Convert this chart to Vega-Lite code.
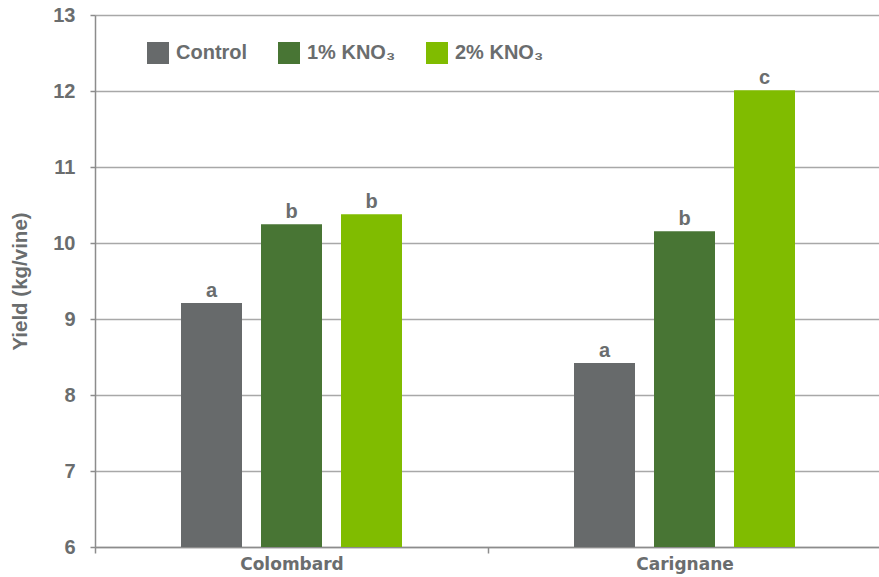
{
  "$schema": "https://vega.github.io/schema/vega-lite/v6.json",
  "width": 786,
  "height": 532,
  "autosize": "none",
  "padding": {"left": 95, "top": 15, "right": 0, "bottom": 30},
  "background": "white",
  "config": {
    "view": {"stroke": null},
    "font": "Liberation Sans"
  },
  "data": {
    "values": [
      {"cultivar": "Colombard", "treatment": "Control", "yield": 9.21, "sig": "a"},
      {"cultivar": "Colombard", "treatment": "1% KNO₃", "yield": 10.246, "sig": "b"},
      {"cultivar": "Colombard", "treatment": "2% KNO₃", "yield": 10.378, "sig": "b"},
      {"cultivar": "Carignane", "treatment": "Control", "yield": 8.42, "sig": "a"},
      {"cultivar": "Carignane", "treatment": "1% KNO₃", "yield": 10.155, "sig": "b"},
      {"cultivar": "Carignane", "treatment": "2% KNO₃", "yield": 12.01, "sig": "c"}
    ]
  },
  "encoding": {
    "x": {
      "field": "cultivar",
      "type": "nominal",
      "sort": ["Colombard", "Carignane"],
      "scale": {"paddingInner": 0, "paddingOuter": 0},
      "axis": {
        "title": null,
        "labelAngle": 0,
        "labelFont": "DejaVu Sans",
        "labelFontSize": 17,
        "labelFontWeight": "bold",
        "labelColor": "#6a6d6e",
        "labelPadding": 3,
        "tickBand": "extent",
        "tickSize": 6,
        "tickColor": "#8c8c8c",
        "tickWidth": 1.5,
        "domainColor": "#8c8c8c",
        "domainWidth": 1.5,
        "grid": false
      }
    },
    "xOffset": {
      "field": "treatment",
      "type": "nominal",
      "sort": ["Control", "1% KNO₃", "2% KNO₃"],
      "scale": {"paddingInner": 0.0875, "paddingOuter": 1}
    },
    "y": {
      "field": "yield",
      "type": "quantitative",
      "scale": {"domain": [6, 13], "nice": false, "zero": false},
      "axis": {
        "values": [6, 7, 8, 9, 10, 11, 12, 13],
        "title": "Yield (kg/vine)",
        "titleFont": "Liberation Sans",
        "titleFontSize": 20.5,
        "titleFontWeight": "bold",
        "titleColor": "#6a6d6e",
        "titleX": -75,
        "titleY": 266,
        "titleBaseline": "middle",
        "titleAngle": -90,
        "labelFont": "Liberation Sans",
        "labelFontSize": 20,
        "labelFontWeight": "bold",
        "labelColor": "#6a6d6e",
        "labelPadding": 15,
        "tickSize": 5,
        "tickColor": "#8c8c8c",
        "tickWidth": 1.5,
        "domainColor": "#8c8c8c",
        "domainWidth": 1.5,
        "grid": true,
        "gridColor": "#a8a8a8",
        "gridWidth": 1.5
      }
    }
  },
  "layer": [
    {
      "mark": {"type": "bar", "width": 61},
      "encoding": {
        "y2": {"datum": 6},
        "color": {
          "field": "treatment",
          "type": "nominal",
          "sort": ["Control", "1% KNO₃", "2% KNO₃"],
          "scale": {
            "domain": ["Control", "1% KNO₃", "2% KNO₃"],
            "range": ["#676a6b", "#487534", "#80bc00"]
          },
          "legend": {
            "orient": "none",
            "legendX": 52,
            "legendY": 27,
            "direction": "horizontal",
            "title": null,
            "padding": 0,
            "symbolType": "square",
            "symbolSize": 484,
            "symbolStrokeWidth": 0,
            "symbolOpacity": 1,
            "labelFont": "Liberation Sans",
            "labelFontSize": 20,
            "labelFontWeight": "bold",
            "labelColor": "#6a6d6e",
            "labelOffset": 7,
            "columnPadding": 30
          }
        }
      }
    },
    {
      "mark": {
        "type": "text",
        "baseline": "alphabetic",
        "dy": -6,
        "font": "Liberation Sans",
        "fontSize": 20,
        "fontWeight": "bold",
        "color": "#6a6d6e"
      },
      "encoding": {
        "text": {"field": "sig"}
      }
    }
  ]
}
